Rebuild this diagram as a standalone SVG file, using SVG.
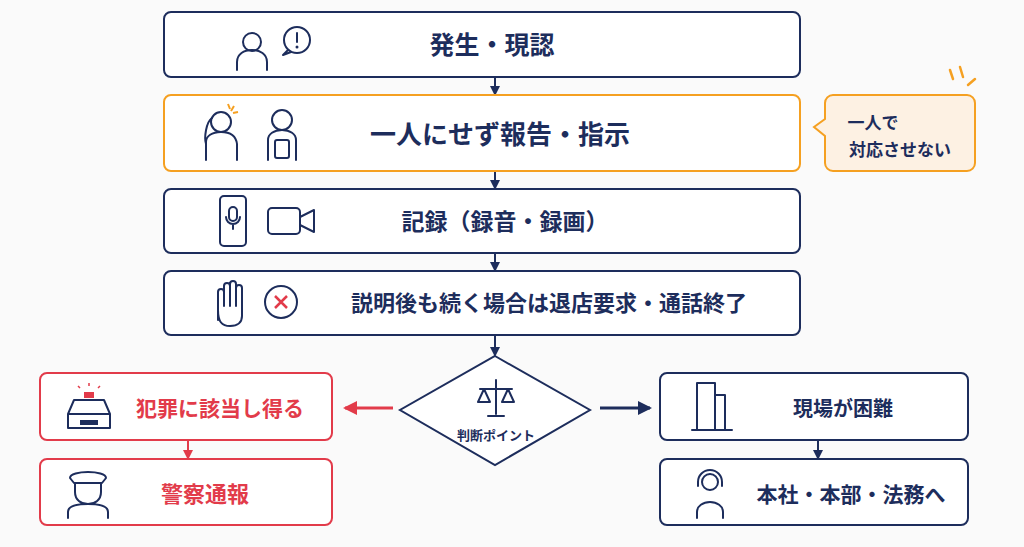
<svg xmlns="http://www.w3.org/2000/svg" width="1024" height="547" viewBox="0 0 1024 547">
<defs>
<style>
.box{fill:#fff;stroke:#1d2d5c;stroke-width:2}
.ob{fill:#fff;stroke:#f5a021;stroke-width:2}
.rb{fill:#fff;stroke:#e23b4a;stroke-width:2}
.t{font-family:"Noto Sans CJK JP",sans-serif;font-weight:700;fill:#1d2d5c;text-anchor:middle}
.rt{fill:#e23b4a}
.ic{fill:none;stroke:#1d2d5c;stroke-width:2;stroke-linecap:round;stroke-linejoin:round}
.ln{stroke:#1d2d5c;stroke-width:2;fill:none}
</style>
<marker id="ah" markerWidth="10" markerHeight="10" refX="8" refY="5" orient="auto" markerUnits="userSpaceOnUse"><path d="M0,0L10,5L0,10z" fill="#1d2d5c"/></marker>
<marker id="ahr" markerWidth="10" markerHeight="10" refX="8" refY="5" orient="auto" markerUnits="userSpaceOnUse"><path d="M0,0L10,5L0,10z" fill="#e23b4a"/></marker>
<marker id="ahb" markerWidth="14" markerHeight="14" refX="12" refY="7" orient="auto" markerUnits="userSpaceOnUse"><path d="M0,0L14,7L0,14z" fill="#1d2d5c"/></marker>
<marker id="ahrb" markerWidth="14" markerHeight="14" refX="12" refY="7" orient="auto" markerUnits="userSpaceOnUse"><path d="M0,0L14,7L0,14z" fill="#e23b4a"/></marker>
</defs>
<rect width="1024" height="547" fill="#fafafa"/>
<g id="connectors">
<line class="ln" x1="495" y1="77" x2="495" y2="94" marker-end="url(#ah)"/>
<line class="ln" x1="495" y1="171" x2="495" y2="188" marker-end="url(#ah)"/>
<line class="ln" x1="495" y1="253" x2="495" y2="270" marker-end="url(#ah)"/>
<line class="ln" x1="495" y1="335" x2="495" y2="355" marker-end="url(#ah)"/>
<line x1="393" y1="408" x2="345" y2="408" stroke="#e23b4a" stroke-width="3" marker-end="url(#ahrb)"/>
<line x1="600" y1="408" x2="650" y2="408" stroke="#1d2d5c" stroke-width="3" marker-end="url(#ahb)"/>
<line x1="188" y1="440" x2="188" y2="458" stroke="#e23b4a" stroke-width="2" marker-end="url(#ahr)"/>
<line class="ln" x1="818" y1="440" x2="818" y2="458" marker-end="url(#ah)"/>
</g>
<g id="n1">
<rect class="box" x="164" y="12" width="636" height="65" rx="7"/>
<circle class="ic" cx="252" cy="42" r="9"/><path class="ic" d="M237,70v-8c0-8,7-12,15-12s15,4,15,12v8"/>
<circle class="ic" cx="297" cy="40" r="13"/><path class="ic" d="M288,50l-5,5 8,-3"/>
<line class="ic" x1="297" y1="33" x2="297" y2="42"/><circle cx="297" cy="47" r="1.5" fill="#1d2d5c"/>
<text class="t" x="492" y="54" font-size="25">発生・現認</text>
</g>
<g id="n2">
<rect class="ob" x="164" y="95" width="636" height="76" rx="7"/>
<circle class="ic" cx="221" cy="122" r="10"/><path class="ic" d="M206,160v-18c0-6,6-10,15-10s15,4,16,12v16"/><path class="ic" d="M212,118c-6,4-8,20-6,26"/>
<path d="M228,104l2,5M234,106l-3,5M238,112l-5,1" stroke="#f5a021" stroke-width="2"/>
<circle class="ic" cx="282" cy="120" r="10"/><path class="ic" d="M268,160v-20c0-6,6-10,14-10s14,4,14,10v20"/><rect class="ic" x="275" y="140" width="14" height="18" rx="2"/>
<text class="t" x="500" y="144" font-size="26">一人にせず報告・指示</text>
</g>
<g id="callout">
<path d="M833,95h134a8,8 0 0 1 8,8v60a8,8 0 0 1 -8,8h-134a8,8 0 0 1 -8,-8v-27l-11,-9 11,-8v-16a8,8 0 0 1 8,-8z" fill="#fdf1e3" stroke="#f5a021" stroke-width="2"/>
<path d="M950,70l3,9M960,67l3,10M975,79l-7,6" stroke="#f5a021" stroke-width="2.5" stroke-linecap="round"/>
<text class="t" x="873" y="129" font-size="17">一人で</text>
<text class="t" x="900" y="156" font-size="17">対応させない</text>
</g>
<g id="n3">
<rect class="box" x="164" y="189" width="636" height="64" rx="7"/>
<rect class="ic" x="220" y="196" width="26" height="50" rx="4"/><rect class="ic" x="229" y="207" width="8" height="14" rx="4"/><path class="ic" d="M226,217a7,7 0 0 0 14,0M233,224v5"/>
<rect class="ic" x="268" y="208" width="32" height="26" rx="4"/><path class="ic" d="M300,217l14,-7v22l-14,-7"/>
<text class="t" x="505" y="230" font-size="23">記録（録音・録画）</text>
</g>
<g id="n4">
<rect class="box" x="164" y="271" width="636" height="64" rx="7"/>
<path class="ic" d="M218,320v-28a3,3 0 0 1 6,0v14v-20a3,3 0 0 1 6,0v20v-22a3,3 0 0 1 6,0v22v-18a3,3 0 0 1 6,0v28c0,6-4,10-12,10s-12-4-12-16z"/>
<circle class="ic" cx="281" cy="302" r="16"/><path d="M275,296l12,12M287,296l-12,12" stroke="#e23b4a" stroke-width="2.5"/>
<text class="t" x="549" y="311" font-size="22">説明後も続く場合は退店要求・通話終了</text>
</g>
<g id="decision">
<path d="M495,356L590,410L495,465L400,410z" fill="#fff" stroke="#1d2d5c" stroke-width="2"/>
<path class="ic" d="M496,380v34M480,389h32M484,389l-6,13h12zM508,389l-6,13h12zM488,416h16"/>
<text class="t" x="496" y="440" font-size="13">判断ポイント</text>
</g>
<g id="r1">
<rect class="rb" x="40" y="373" width="292" height="67" rx="7"/>
<path class="ic" d="M68,428v-14l6,-14h30l6,14v14zM68,414h42"/><rect x="80" y="420" width="18" height="5" fill="#1d2d5c"/>
<rect x="84" y="392" width="10" height="6" fill="#e23b4a"/><path d="M89,386v-3M80,388l-2,-2M98,388l2,-2" stroke="#e23b4a" stroke-width="1.5"/>
<text class="t rt" x="220" y="416" font-size="21">犯罪に該当し得る</text>
</g>
<g id="r2">
<rect class="rb" x="40" y="459" width="292" height="66" rx="7"/>
<path class="ic" d="M70,478c0,-8 36,-8 36,0l-4,5h-28z"/><path class="ic" d="M75,484v8c0,8 6,12 13,12s13,-4 13,-12v-8M68,518v-6c0,-6 8,-8 20,-8s20,2 20,8v6"/>
<text class="t rt" x="205" y="502" font-size="22">警察通報</text>
</g>
<g id="r3">
<rect class="box" x="660" y="373" width="308" height="67" rx="7"/>
<path class="ic" d="M697,430v-47h18v47M715,395h10v35M692,430h40"/>
<text class="t" x="843" y="416" font-size="20">現場が困難</text>
</g>
<g id="r4">
<rect class="box" x="660" y="459" width="308" height="66" rx="7"/>
<circle class="ic" cx="710" cy="482" r="8"/><path class="ic" d="M698,486v-4a12,12 0 0 1 24,0v4M697,518v-6c0,-6 6,-10 13,-10s13,4 13,10v6"/>
<text class="t" x="851" y="502" font-size="21">本社・本部・法務へ</text>
</g>
</svg>
